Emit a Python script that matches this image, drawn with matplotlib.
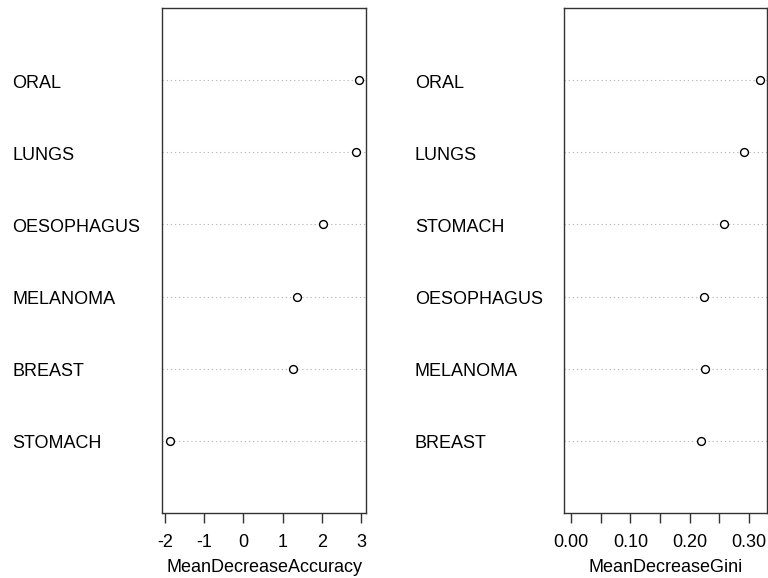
import matplotlib
matplotlib.use("Agg")
import matplotlib.pyplot as plt
import matplotlib.transforms as mtransforms
import numpy as np

plt.rcParams['font.family'] = ['Liberation Sans', 'DejaVu Sans']

# left panel, bottom to top
acc_labels = ["STOMACH", "BREAST", "MELANOMA", "OESOPHAGUS", "LUNGS", "ORAL"]
acc_values = [-1.87, 1.27, 1.37, 2.03, 2.87, 2.95]
acc_ticks = [-2, -1, 0, 1, 2, 3]

# right panel, bottom to top
gini_labels = ["BREAST", "MELANOMA", "OESOPHAGUS", "STOMACH", "LUNGS", "ORAL"]
gini_values = [0.219, 0.226, 0.224, 0.258, 0.291, 0.318]
gini_ticks = [0.00, 0.05, 0.10, 0.15, 0.20, 0.25, 0.30]
gini_ticklabels = ["0.00", "", "0.10", "", "0.20", "", "0.30"]

W, H = 768, 578
FS = 13
fig = plt.figure(figsize=(W / 100, H / 100), dpi=100)


def dotchart(left_px, right_px, labels, values, xlim, ticks, ticklabels, xlabel, label_x_px):
    ax = fig.add_axes([left_px / W, 1 - 513 / H, (right_px - left_px) / W, (513 - 8) / H])
    y = np.arange(1, len(values) + 1)
    for yy in y:
        ax.axhline(yy, color="#bbbbbb", lw=0.8, ls=(0, (1.2, 2.5)), zorder=1)
    ax.scatter(values, y, s=32, facecolors="white", edgecolors="black", linewidths=1.0, zorder=3)
    ax.set_xlim(*xlim)
    ax.set_ylim(0, len(values) + 1)
    ax.set_yticks([])
    ax.set_xticks(ticks)
    ax.set_xticklabels(ticklabels, fontsize=FS)
    ax.tick_params(axis="x", direction="out", length=7.5, width=1, pad=7.5, color="#333333")
    ax.set_xlabel(xlabel, fontsize=FS, labelpad=6)
    for s in ax.spines.values():
        s.set_color("#333333")
        s.set_linewidth(1.0)
    # row labels sit a little below their dotted line, as in R's dotchart
    trans = mtransforms.blended_transform_factory(fig.transFigure, ax.transData) + \
        mtransforms.ScaledTranslation(0, -3 / 100, fig.dpi_scale_trans)
    for lab, yy in zip(labels, y):
        ax.text(label_x_px / W, yy, lab, transform=trans,
                ha="left", va="center", fontsize=FS)
    return ax


dotchart(162, 366, acc_labels, acc_values, (-2.08, 3.13), acc_ticks,
         [str(t) for t in acc_ticks], "MeanDecreaseAccuracy", 12)
dotchart(564, 767, gini_labels, gini_values, (-0.0118, 0.330), gini_ticks,
         gini_ticklabels, "MeanDecreaseGini", 415)

fig.savefig("out.png", dpi=100)
